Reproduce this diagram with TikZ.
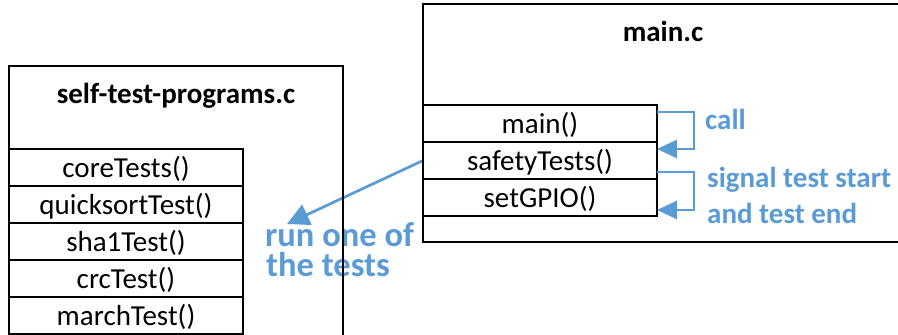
\documentclass[tikz,border=0pt]{standalone}
\usepackage{fontspec}
\setmainfont{Carlito}
\usetikzlibrary{arrows.meta,backgrounds}
\definecolor{callblue}{RGB}{91,155,213}

\begin{document}
\begin{tikzpicture}[x=1pt,y=-1pt,
  frame/.style={draw=black, line width=2pt, inner sep=0pt, outer sep=0pt},
  fnrow/.style={frame, anchor=north west, minimum width=234pt, minimum height=37pt,
    text height=19pt, text depth=0pt, font=\fontsize{29}{35}\selectfont},
  title/.style={font=\fontsize{29}{35}\selectfont\bfseries, inner sep=0pt, anchor=base},
  note/.style={text=callblue, font=\fontsize{29}{35}\selectfont\bfseries, inner sep=0pt, anchor=base west},
  bignote/.style={note, font=\fontsize{34.5}{29}\selectfont\bfseries, text height=25pt, text depth=0pt},
  flow/.style={draw=callblue, line width=2.7pt, -{Triangle[length=20pt,width=18pt]}}
]
\useasboundingbox (0,0) rectangle (898,335);
\clip (0,0) rectangle (898,335);

% self-test-programs.c module
\node[frame, anchor=north west, minimum width=334pt, minimum height=290pt] (selfbox) at (9,66) {};
\node[title] (selftitle) at (176,103) {self-test-programs.c};
\node[fnrow] (core)  at (9,149) {coreTests()};
\node[fnrow] (quick) at (core.south west) {quicksortTest()};
\node[fnrow] (sha)   at (quick.south west) {sha1Test()};
\node[fnrow] (crc)   at (sha.south west) {crcTest()};
\node[fnrow] (march) at (crc.south west) {marchTest()};

% main.c module
\node[frame, anchor=north west, minimum width=490pt, minimum height=238pt] (mainbox) at (423,4) {};
\node[title] (maintitle) at (663,41) {main.c};
\node[fnrow] (mainfn)  at (423,105) {main()};
\node[fnrow] (safety)  at (mainfn.south west) {safetyTests()};
\node[fnrow] (setgpio) at (safety.south west) {setGPIO()};

% calls inside main.c
\draw[flow] ([yshift=-7pt]mainfn.north east) -- ++(37,0) |- ([yshift=-7pt]safety.north east);
\draw[flow] ([yshift=7pt]safety.south east) -- ++(37,0) |- ([yshift=6pt]setgpio.south east);
\node[note] (calllbl) at (705,129) {call};
\node[note] (sig1) at (707,187) {signal test start};
\node[note] (sig2) at (707,223) {and test end};

% call into the test module, drawn beneath the frames
\begin{pgfonlayer}{background}
  \coordinate (runtip) at (287,224);
  \draw[flow, -{Triangle[length=22pt,width=22pt]}] (safety.west) -- (runtip);
  \node[bignote] (run1) at (265,246) {run one of};
  \node[bignote] (run2) at (266,276) {the tests};
\end{pgfonlayer}
\end{tikzpicture}
\end{document}
